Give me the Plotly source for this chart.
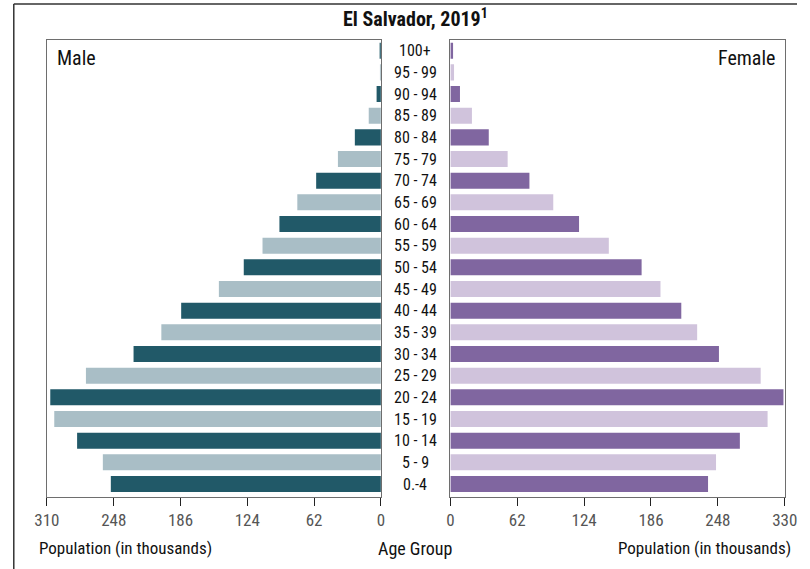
import plotly.graph_objects as go

age_groups = ["0.-4", "5 - 9", "10 - 14", "15 - 19", "20 - 24", "25 - 29", "30 - 34",
              "35 - 39", "40 - 44", "45 - 49", "50 - 54", "55 - 59", "60 - 64", "65 - 69",
              "70 - 74", "75 - 79", "80 - 84", "85 - 89", "90 - 94", "95 - 99", "100+"]
male = [250.7, 258.1, 282.0, 303.2, 306.9, 273.8, 229.6, 203.8, 185.4, 150.4, 127.3,
        109.9, 94.2, 77.6, 60.1, 39.9, 24.2, 11.3, 4.0, 0.9, 1.2]
female = [238.9, 246.3, 268.4, 294.1, 308.8, 287.7, 249.0, 228.8, 214.1, 194.8, 177.3,
          146.9, 119.3, 95.4, 73.3, 53.1, 35.6, 20.0, 8.9, 3.4, 2.5]
tick_vals = [0, 62, 124, 186, 248, 310]
male_tick_text = ["0", "62", "124", "186", "248", "310"]
female_tick_text = ["0", "62", "124", "186", "248", "330"]

male_colors = ["#215968" if i % 2 == 0 else "#a9bec6" for i in range(len(age_groups))]
female_colors = ["#8066a0" if i % 2 == 0 else "#d0c3dc" for i in range(len(age_groups))]

W, H = 810, 569
# the page is photographed slightly compressed horizontally; place items so they land
# where the reference shows them
def px(x_ref):
    return max(0.0, min(1.0, ((x_ref - 11.5) / 0.9755) / W))
def py(y):
    return 1 - y / H

NARROW = "Liberation Sans Narrow, Arial Narrow, Roboto Condensed, Liberation Sans, Arial, sans-serif"

fig = go.Figure()
fig.add_trace(go.Bar(y=age_groups, x=male, orientation="h", marker=dict(color=male_colors, line=dict(width=0)),
                     xaxis="x", yaxis="y", showlegend=False, name="Male", hoverinfo="skip"))
fig.add_trace(go.Bar(y=age_groups, x=female, orientation="h", marker=dict(color=female_colors, line=dict(width=0)),
                     xaxis="x2", yaxis="y2", showlegend=False, name="Female", hoverinfo="skip"))

axis_common = dict(showgrid=False, zeroline=False, showline=True, mirror=True, linecolor="#6e6e6e",
                   linewidth=1, ticks="outside", ticklen=8, tickcolor="#222", tickwidth=1,
                   tickfont=dict(family=NARROW, size=17, color="#555"), fixedrange=True)
yrange = [-0.6, len(age_groups) - 1 + 0.48]

fig.update_layout(
    width=W, height=H, margin=dict(l=0, r=0, t=0, b=0), hovermode=False,
    paper_bgcolor="white", plot_bgcolor="white", bargap=0.26,
    xaxis=dict(domain=[px(45.7), px(382.3)], range=[310, 0], tickvals=tick_vals,
               ticktext=male_tick_text, anchor="y", **axis_common),
    xaxis2=dict(domain=[px(452.3), px(789.3)], range=[0, 310], tickvals=tick_vals,
                ticktext=female_tick_text, anchor="y2", **axis_common),
    yaxis=dict(domain=[py(497), py(40.3)], range=yrange, showticklabels=False, ticks="",
               showgrid=False, zeroline=False, showline=True, mirror=True, linecolor="#6e6e6e",
               anchor="x", type="category", fixedrange=True),
    yaxis2=dict(domain=[py(497), py(40.3)], range=yrange, showticklabels=False, ticks="",
                showgrid=False, zeroline=False, showline=True, mirror=True, linecolor="#6e6e6e",
                anchor="x2", type="category", fixedrange=True),
)

annotations = []
for ag in age_groups:
    annotations.append(dict(x=px(417), y=ag, xref="paper", yref="y", text=ag, showarrow=False,
                            xanchor="center", yanchor="middle",
                            font=dict(family=NARROW, size=16, color="#111")))
annotations += [
    dict(x=px(417), y=py(18), xref="paper", yref="paper", text="<b>El Salvador, 2019<sup>1</sup></b>",
         showarrow=False, xanchor="center", yanchor="middle", font=dict(family=NARROW, size=20, color="#111")),
    dict(x=px(54), y=py(58), xref="paper", yref="paper", text="Male", showarrow=False,
         xanchor="left", yanchor="middle", font=dict(family=NARROW, size=20, color="#111")),
    dict(x=px(781), y=py(58), xref="paper", yref="paper", text="Female", showarrow=False,
         xanchor="right", yanchor="middle", font=dict(family=NARROW, size=20, color="#111")),
    dict(x=px(125), y=py(548), xref="paper", yref="paper", text="Population (in thousands)", showarrow=False,
         xanchor="center", yanchor="middle", font=dict(family=NARROW, size=17, color="#111")),
    dict(x=px(417), y=py(548), xref="paper", yref="paper", text="Age Group", showarrow=False,
         xanchor="center", yanchor="middle", font=dict(family=NARROW, size=18, color="#111")),
    dict(x=px(708), y=py(548), xref="paper", yref="paper", text="Population (in thousands)", showarrow=False,
         xanchor="center", yanchor="middle", font=dict(family=NARROW, size=17, color="#111")),
]
fig.update_layout(annotations=annotations)

fig.update_layout(shapes=[
    dict(type="line", xref="paper", yref="paper", x0=0.001, x1=0.001, y0=py(4), y1=py(569),
         line=dict(color="#333", width=1.5)),
    dict(type="line", xref="paper", yref="paper", x0=0.001, x1=px(806), y0=py(4), y1=py(4),
         line=dict(color="#333", width=1.5)),
])

fig.write_html(
    "out.html",
    config={"displayModeBar": False, "staticPlot": True},
    post_script="document.documentElement.style.margin='0';document.documentElement.style.overflow='hidden';"
                "document.body.style.margin='0';document.body.style.padding='0';document.body.style.overflow='hidden';",
)
